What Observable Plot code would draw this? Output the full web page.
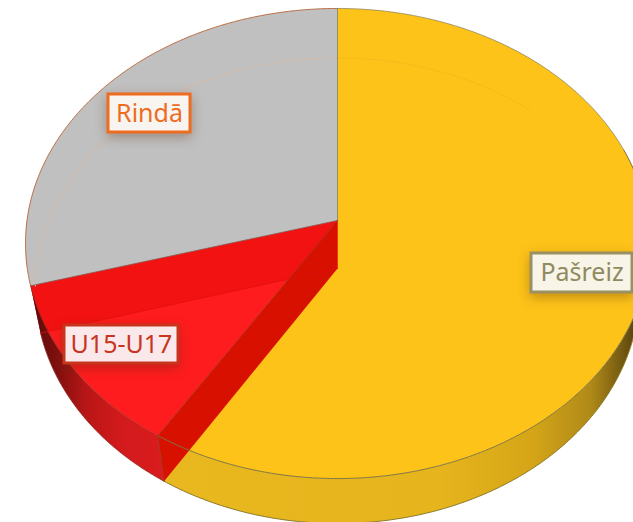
<!DOCTYPE html>
<html>
<head>
<meta charset="utf-8">
<style>
html,body{margin:0;padding:0;background:#fff;overflow:hidden}
svg{display:block}
</style>
<script src="https://cdn.jsdelivr.net/npm/d3@7"></script>
<script src="https://cdn.jsdelivr.net/npm/@observablehq/plot@0.6"></script>
</head>
<body>
<div id="chart"></div>
<script>
const categories = ["Pašreiz", "U15-U17", "Rindā"];
const shares = [58.9, 11.7, 29.4];
const topFaceColors = ["#fdc319", "#ff1c1e", "#c0c0c0"];

// Perspective of the tilted disc (plot units)
const topDisc = {cx: 337, cy: 220, A: 310.5, B: 232.8, k: 0.0979};
const bottomDisc = {cx: 337, cy: 268, A: 300.7, B: 230.9, k: 0.0944};
const faintDisc = {cx: 337, cy: 264, A: 300.7, B: 226, k: 0.0944};

const arcs = d3.pie().sort(null).value(d => d)(shares);
const TAU = Math.PI * 2;

function project(t, disc) {
  const X = Math.sin(t), Y = -Math.cos(t), d = 1 - disc.k * Y;
  return {x: disc.cx + disc.A * X / d, y: disc.cy + disc.B * Y / d};
}
function arcPts(a0, a1, disc) {
  const n = Math.max(2, Math.ceil(Math.abs(a1 - a0) / (TAU / 720)));
  return d3.range(n + 1).map(i => project(a0 + (a1 - a0) * i / n, disc));
}
const apex = disc => ({x: disc.cx, y: disc.cy});
const [yellow, red, grey] = arcs;

const faces = arcs.map(a => [apex(topDisc), ...arcPts(a.startAngle, a.endAngle, topDisc), apex(topDisc)]);
const redBackWall = [apex(topDisc), project(red.endAngle, topDisc), project(red.endAngle, bottomDisc), apex(bottomDisc)];
const redSideWall = [apex(topDisc), project(red.startAngle, topDisc), project(red.startAngle, bottomDisc), apex(bottomDisc)];
const redOuterWall = [...arcPts(red.startAngle, red.endAngle, topDisc), ...arcPts(red.endAngle, red.startAngle, bottomDisc)];
const yellowOuterWall = [...arcPts(TAU * 0.2, yellow.endAngle, topDisc), ...arcPts(yellow.endAngle, TAU * 0.2, bottomDisc)];

const labels = [
  {text: categories[0], x1: 531, x2: 632, y1: 253, y2: 292, fill: "#f8f4e8", line: "#9a9163", ink: "#8f8a60"},
  {text: categories[1], x1: 64, x2: 178, y1: 325, y2: 363, fill: "#fae8ea", line: "#c8351f", ink: "#c8351f"},
  {text: categories[2], x1: 108, x2: 190, y1: 94, y2: 132, fill: "#f8f4f0", line: "#ee6c1f", ink: "#ee6c1f"}
];

function gradient(id, stops) {
  const ns = "http://www.w3.org/2000/svg";
  const g = document.createElementNS(ns, "linearGradient");
  g.setAttribute("id", id);
  g.setAttribute("gradientUnits", "userSpaceOnUse");
  g.setAttribute("x1", stops[0][0]); g.setAttribute("x2", stops[stops.length - 1][0]);
  g.setAttribute("y1", 0); g.setAttribute("y2", 0);
  const [x0, x1] = [stops[0][0], stops[stops.length - 1][0]];
  for (const [x, c] of stops) {
    const s = document.createElementNS(ns, "stop");
    s.setAttribute("offset", (x - x0) / (x1 - x0));
    s.setAttribute("stop-color", c);
    g.appendChild(s);
  }
  return g;
}
const defsMark = () => {
  const ns = "http://www.w3.org/2000/svg";
  const d = document.createElementNS(ns, "defs");
  d.appendChild(gradient("wallRed", [[33, "#5a0c0c"], [55, "#7e0f0f"], [85, "#b81616"], [120, "#d21a1c"], [165, "#da1c1e"]]));
  d.appendChild(gradient("wallYellow", [[160, "#e9b81f"], [440, "#e6b41c"], [530, "#d6a618"], [590, "#b08a18"], [625, "#6e5510"], [640, "#4a3a0c"]]));
  return d;
};

const poly = (pts, fill, extra = {}) => Plot.line(pts, {x: "x", y: "y", fill, stroke: "none", ...extra});
const edge = (pts, stroke, strokeWidth = 1, extra = {}) => Plot.line(pts, {x: "x", y: "y", stroke, strokeWidth, ...extra});

const plot = Plot.plot({
  width: 633, height: 522,
  margin: 0,
  x: {domain: [0, 633], range: [0, 633], axis: null},
  y: {domain: [0, 522], range: [0, 522], axis: null},
  style: {background: "#fff"},
  marks: [
    defsMark,
    poly(yellowOuterWall, "url(#wallYellow)"),
    poly(faces[0], topFaceColors[0]),
    poly(faces[2], topFaceColors[2]),
    poly(faces[1], topFaceColors[1]),
    poly(redBackWall, "#f21212"),
    poly(redOuterWall, "url(#wallRed)"),
    poly(redSideWall, "#d81000"),
    // faint far rim of the bottom disc seen through the top face
    edge(arcPts(TAU * 0.735, TAU, faintDisc), "#cdbbae", 1.2),
    edge(arcPts(0, TAU * 0.12, faintDisc), "#f4bb1c", 1),
    // edges
    edge(arcPts(yellow.endAngle, TAU * 0.27, bottomDisc), "#8a7a2a", 1),
    edge(arcPts(TAU * 0.2, red.startAngle, topDisc), "#7f7440", 1),
    edge(arcPts(grey.startAngle, grey.endAngle, topDisc), "#bd6f45", 1),
    edge(arcPts(0, TAU * 0.2, topDisc), "#8f8660", 0.8),
    edge(arcPts(red.startAngle, red.endAngle, bottomDisc), "#8f2a20", 0.8),
    edge(arcPts(red.startAngle, red.endAngle, topDisc), "#a82a1c", 0.7),
    edge([project(0, topDisc), apex(topDisc)], "#8f8f70", 1),
    edge([apex(topDisc), project(grey.startAngle, topDisc)], "#7d6e66", 0.8),
    edge([apex(topDisc), project(red.startAngle, topDisc)], "#b0301c", 1),
    edge([project(red.startAngle, topDisc), project(red.startAngle, bottomDisc)], "#a8321e", 1),
    edge([apex(bottomDisc), project(red.endAngle, bottomDisc)], "#e01010", 0.8),
    // labels
    ...labels.flatMap(l => [
      Plot.rect([l], {x1: "x1", x2: "x2", y1: "y1", y2: "y2", fill: l.fill, stroke: l.line, strokeWidth: 3,
        imageFilter: "drop-shadow(0px 4px 6px rgba(90,40,10,0.35))"}),
      Plot.text([l], {x: d => (d.x1 + d.x2) / 2, y: d => (d.y1 + d.y2) / 2, text: "text", fill: l.ink,
        fontSize: 25, fontFamily: "'Noto Sans',sans-serif", textAnchor: "middle"})
    ])
  ]
});
document.getElementById("chart").appendChild(plot);
</script>
</body>
</html>
